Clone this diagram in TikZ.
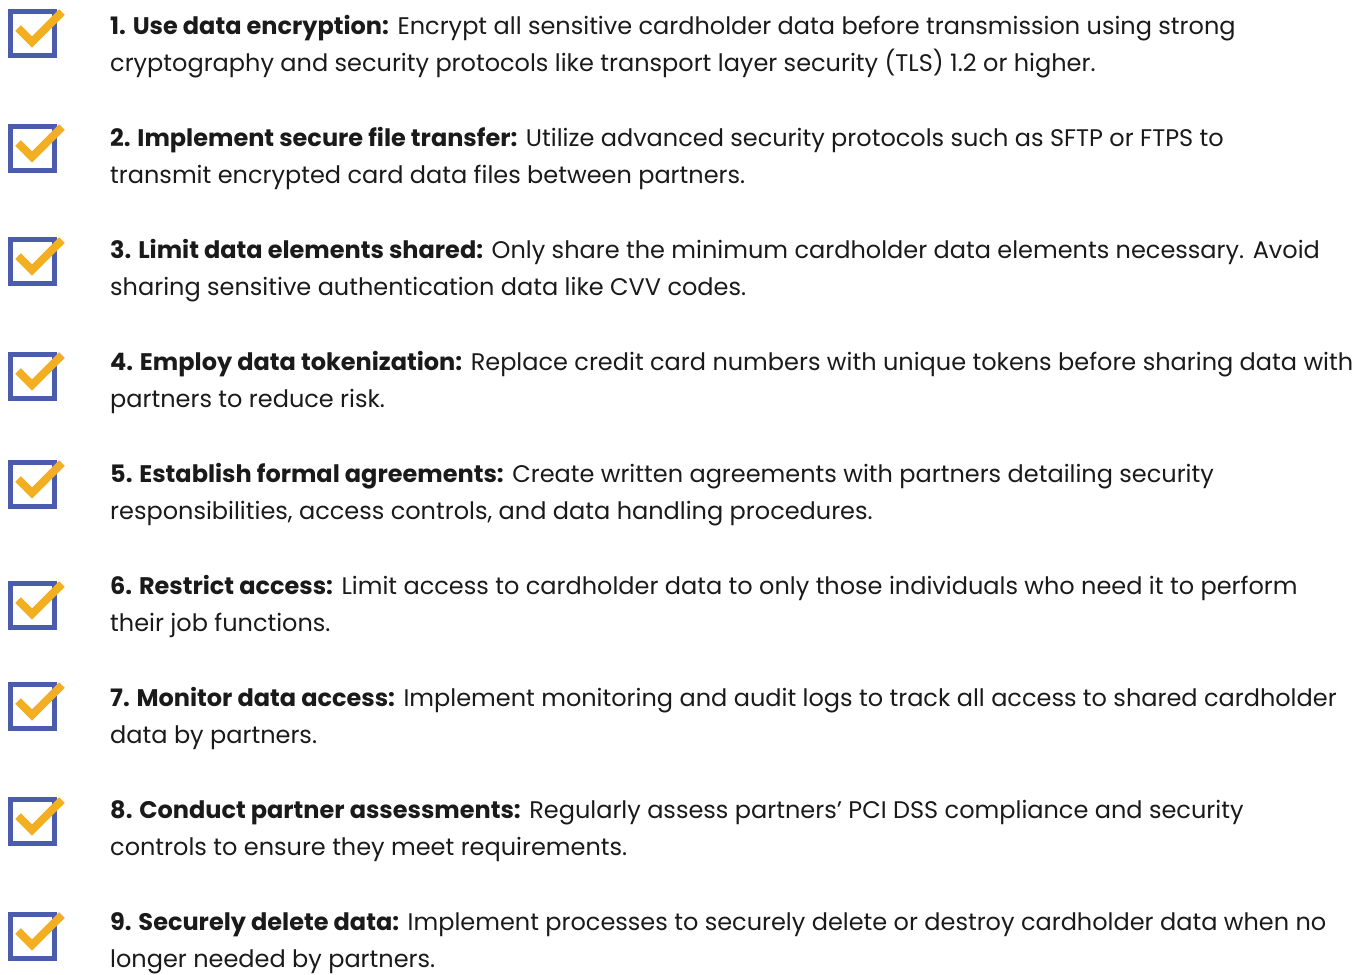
\documentclass[tikz,border=0pt]{standalone}
\usepackage{fontspec}
\setmainfont{Poppins}
\usetikzlibrary{calc}
\definecolor{boxblue}{HTML}{4A5CAB}
\definecolor{checkyellow}{HTML}{F2AF22}
\definecolor{txt}{HTML}{1A1A1A}
\tikzset{
  cbox/.style={draw=boxblue, line width=5bp, minimum size=44bp, inner sep=0, outer sep=0, anchor=north west},
  tick/.style={draw=checkyellow, line width=8bp, line cap=butt, line join=miter},
  itemtext/.style={anchor=base west, inner sep=0, text=txt, font=\fontsize{24bp}{37bp}\selectfont},
}
\newcommand{\itemrow}[5]{%
  \node[cbox] (box#1) at (10.5,#2+2.5) {};
  \draw[tick] ($(box#1.north west)+(7.5,16.5)$) -- ++(14,14) -- ++(30,-30);
  \node[itemtext] (t#1a) at (110,#3) {#4};
  \node[itemtext] (t#1b) at (110,#3+37) {#5};
}
\begin{document}
\begin{tikzpicture}[x=1bp,y=-1bp]
\useasboundingbox (0,0) rectangle (1359,974);
\itemrow{1}{9}{34}{\textbf{1. Use data encryption:} Encrypt all sensitive cardholder data before transmission using strong}{cryptography and security protocols like transport layer security (TLS) 1.2 or higher.}
\itemrow{2}{124}{146}{\textbf{2. Implement secure file transfer:} Utilize advanced security protocols such as SFTP or FTPS to}{transmit encrypted card data files between partners.}
\itemrow{3}{237}{258}{\textbf{3. Limit data elements shared:} Only share the minimum cardholder data elements necessary. Avoid}{sharing sensitive authentication data like CVV codes.}
\itemrow{4}{352}{370}{\textbf{4. Employ data tokenization:} Replace credit card numbers with unique tokens before sharing data with}{partners to reduce risk.}
\itemrow{5}{460}{482}{\textbf{5. Establish formal agreements:} Create written agreements with partners detailing security}{responsibilities, access controls, and data handling procedures.}
\itemrow{6}{581}{594}{\textbf{6. Restrict access:} Limit access to cardholder data to only those individuals who need it to perform}{their job functions.}
\itemrow{7}{682}{706}{\textbf{7. Monitor data access:} Implement monitoring and audit logs to track all access to shared cardholder}{data by partners.}
\itemrow{8}{797}{818}{\textbf{8. Conduct partner assessments:} Regularly assess partners’ PCI DSS compliance and security}{controls to ensure they meet requirements.}
\itemrow{9}{912}{930}{\textbf{9. Securely delete data:} Implement processes to securely delete or destroy cardholder data when no}{longer needed by partners.}
\end{tikzpicture}
\end{document}
